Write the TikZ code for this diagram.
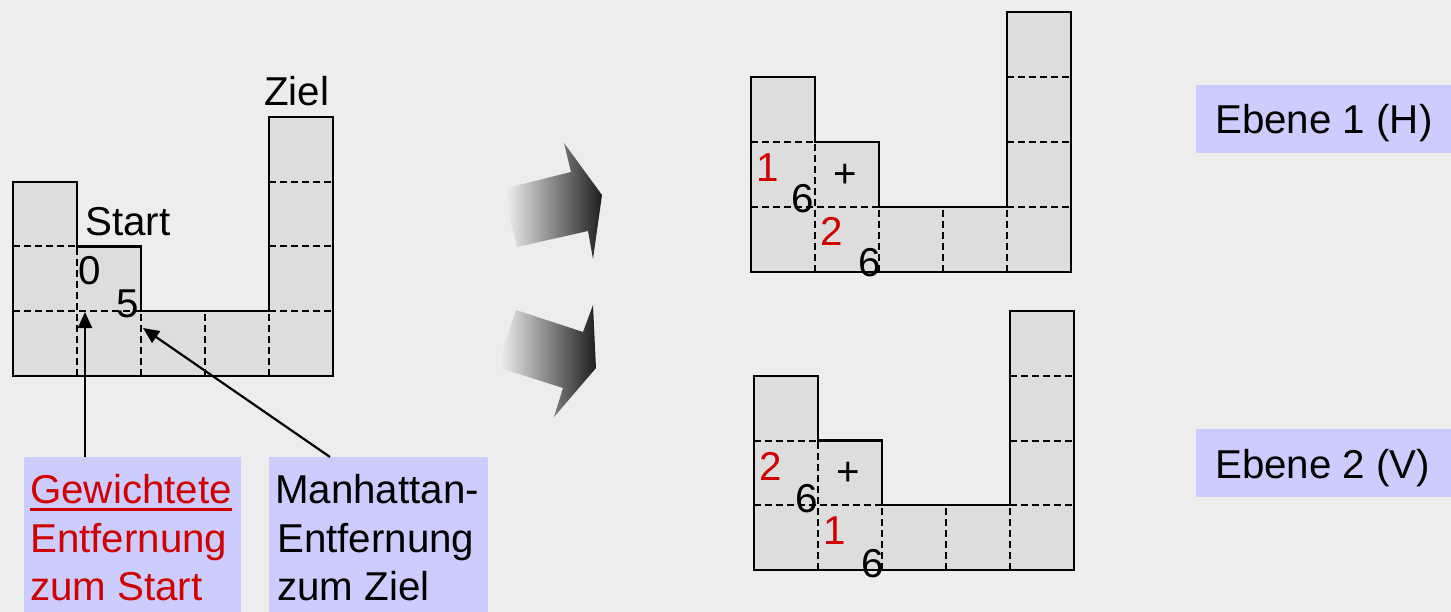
\documentclass[tikz,border=0pt]{standalone}
\usepackage{fontspec}
\setmainfont{Liberation Sans}
\usetikzlibrary{arrows.meta}
\definecolor{bg}{HTML}{EDEDED}
\definecolor{cellc}{HTML}{DDDDDD}
\definecolor{lav}{HTML}{CCCCFF}
\definecolor{dred}{HTML}{D00000}
\tikzset{
  lbl/.style={inner sep=0pt, anchor=base west, font=\fontsize{40.3}{48}\selectfont},
  dashline/.style={line width=2pt, dash pattern=on 7pt off 4pt},
  outline/.style={line width=2.2pt, line join=miter},
  infobox/.style={fill=lav, inner sep=0pt, anchor=north west},
  pointer/.style={line width=2.2pt, -{Triangle[length=16pt,width=14pt]}},
  fancyarrow/.style={left color=white!96!black, right color=black!88}
}
\newcommand{\drawugrid}{%
  \fill[cellc] (0,0) -- (5,0) -- (5,4) -- (4,4) -- (4,1) -- (2,1) -- (2,2) -- (1,2) -- (1,3) -- (0,3) -- cycle;
  \draw[dashline] (0,1) -- (2,1) (0,2) -- (1,2) (4,1) -- (5,1) (4,2) -- (5,2) (4,3) -- (5,3)
                  (1,0) -- (1,2) (2,0) -- (2,1) (3,0) -- (3,1) (4,0) -- (4,1);
  \draw[outline] (0,0) -- (5,0) -- (5,4) -- (4,4) -- (4,1) -- (2,1) -- (2,2) -- (1,2) -- (1,3) -- (0,3) -- cycle;
}
\begin{document}
\begin{tikzpicture}[x=1pt, y=-1pt]
\useasboundingbox (0,0) rectangle (1451,612);
\fill[bg] (0,0) rectangle (1451,612);

% left grid
\begin{scope}[shift={(13,376)}, x=64pt, y=64.75pt]
  \drawugrid
\end{scope}
% top right grid
\begin{scope}[shift={(751,272)}, x=64pt, y=65pt]
  \drawugrid
\end{scope}
% bottom right grid
\begin{scope}[shift={(754,570)}, x=64pt, y=64.75pt]
  \drawugrid
\end{scope}

% left labels
\node[lbl] (ziel) at (264,106) {Ziel};
\node[lbl] (start) at (85,236) {Start};
\node[lbl] (zero) at (78,285) {0};
\node[lbl] (five) at (116,317) {5};

% top right labels
\node[lbl, text=dred] (ta) at (756,182) {1};
\node[lbl] (tb) at (791,213) {6};
\node[inner sep=0pt, font=\fontsize{40.3}{48}\selectfont] (tc) at (845,176) {+};
\node[lbl, text=dred] (td) at (820,246) {2};
\node[lbl] (te) at (858,277) {6};

% bottom right labels
\node[lbl, text=dred] (ba) at (759,480) {2};
\node[lbl] (bb) at (795,512) {6};
\node[inner sep=0pt, font=\fontsize{40.3}{48}\selectfont] (bc) at (848,474) {+};
\node[lbl, text=dred] (bd) at (823,544) {1};
\node[lbl] (be) at (861,577) {6};

% Ebene boxes
\node[infobox, minimum width=260pt, minimum height=68pt] (e1box) at (1196,85) {};
\node[lbl] (e1) at (1215,134) {Ebene 1 (H)};
\node[infobox, minimum width=260pt, minimum height=68pt] (e2box) at (1196,429) {};
\node[lbl] (e2) at (1215,478) {Ebene 2 (V)};

% bottom info boxes
\node[infobox, minimum width=217pt, minimum height=170pt] (gbox) at (24,457) {};
\node[lbl, text=dred] (g1) at (30,503) {Gewichtete};
\node[lbl, text=dred] (g2) at (30,552) {Entfernung};
\node[lbl, text=dred] (g3) at (30,600) {zum Start};
\draw[dred, line width=2.5pt] ([yshift=-6.5pt]g1.base west) -- ([yshift=-6.5pt]g1.base east);

\node[infobox, minimum width=219pt, minimum height=170pt] (mbox) at (269,457) {};
\node[lbl] (m1) at (275,503) {Manhattan-};
\node[lbl] (m2) at (277,552) {Entfernung};
\node[lbl] (m3) at (277,600) {zum Ziel};

% pointers
\coordinate (gtip) at (85,312);
\coordinate (mtip) at (143,328);
\draw[pointer] (gtip |- gbox.north) -- (gtip);
\draw[pointer] ([xshift=61pt]mbox.north west) -- (mtip);

% fancy arrows
\shade[fancyarrow] (503,189) -- (571,172) -- (564,143) -- (602,195) -- (593,259) -- (588,231) -- (517,247) -- cycle;
\shade[fancyarrow] (516,310) -- (583,332) -- (593,305) -- (596,368) -- (554,417) -- (563,388) -- (497,367) -- cycle;
\end{tikzpicture}
\end{document}
